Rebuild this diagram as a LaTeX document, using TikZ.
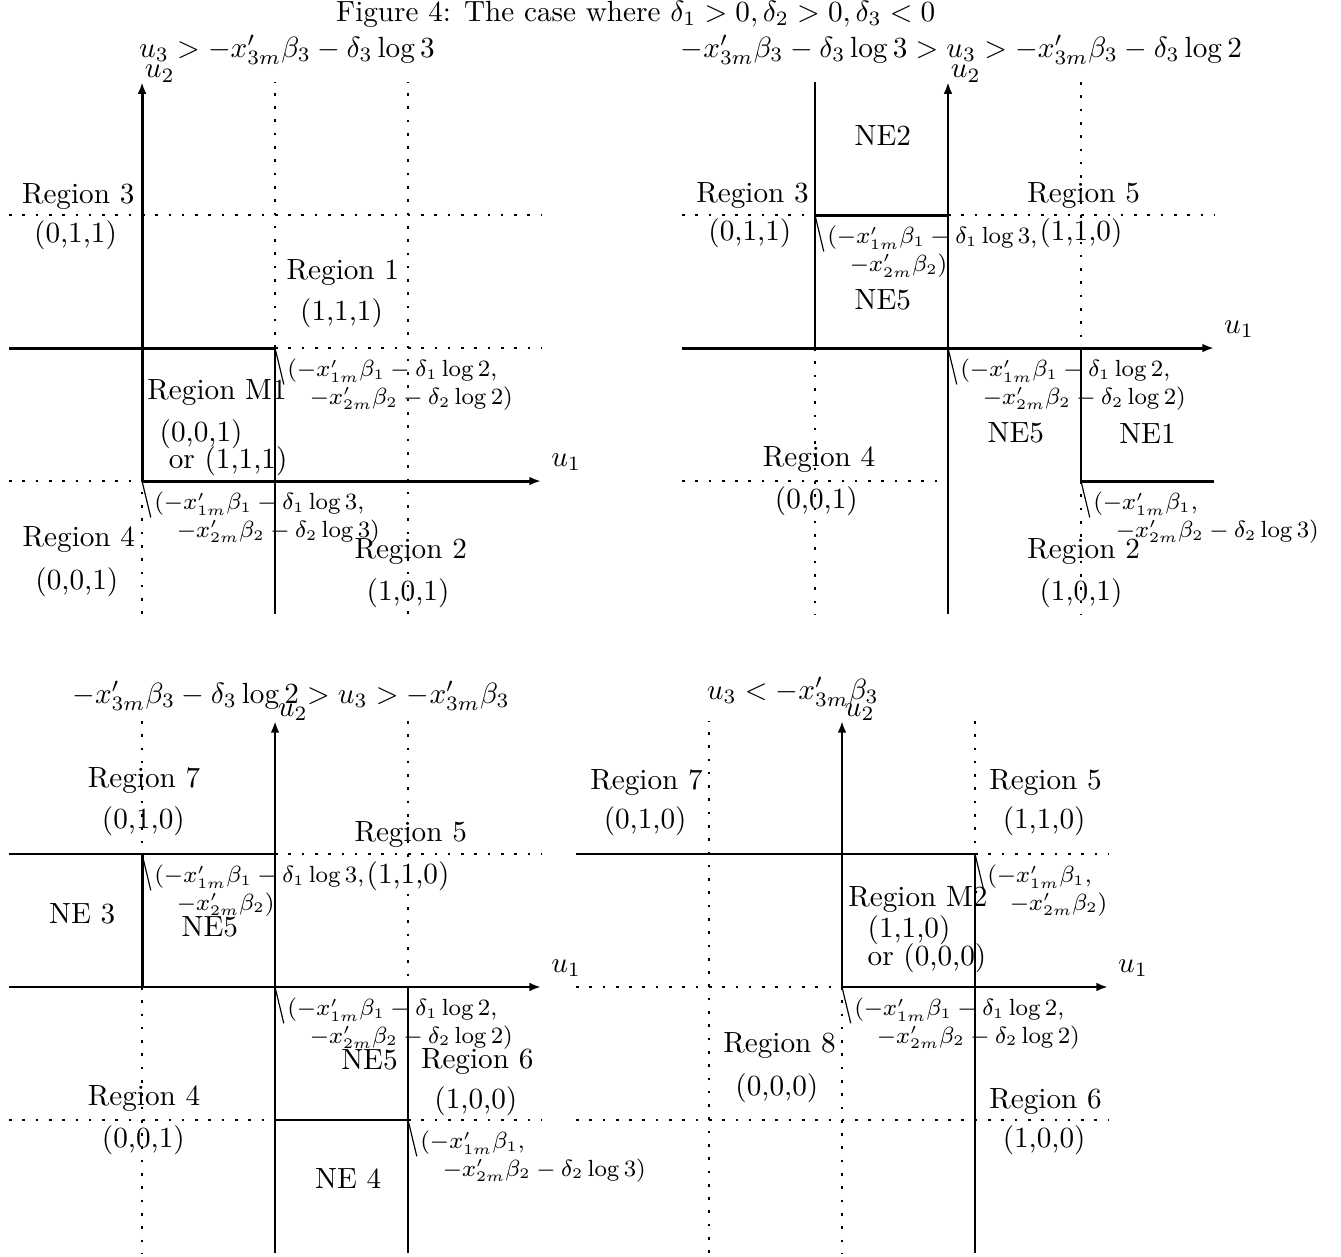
\documentclass[tikz,border=0pt]{standalone}
\usepackage{amsmath,amssymb}
\usetikzlibrary{arrows.meta,positioning,calc}

\begin{document}
\begin{tikzpicture}[x=1.6cm,y=1.6cm,
      bd/.style={line width=1pt},
      dl/.style={line width=0.9pt,dash pattern=on 0.9pt off 3.65pt},
      ax/.style={line width=1pt,-{Latex[length=4pt,width=3pt]}},
      rg/.style={inner sep=1pt},
      pt/.style={font=\fontsize{7.7pt}{9.5pt}\selectfont,align=left,inner sep=1pt},
      pl/.style={line width=0.4pt},
      ua/.style={anchor=south west,inner sep=0.5pt,yshift=-1pt},
      ub/.style={above right,inner sep=3pt}]
  \useasboundingbox (0,0) rectangle (10.083,-9.444);
  \node (fig) at (4.78,-0.105) {Figure 4: The case where $\delta_1 > 0, \delta_2 > 0, \delta_3 < 0$};

  % u3 above the first threshold
  \begin{scope}[shift={(1.068,-3.617)}]
    \draw[dl] (-1,2) -- (3,2);
    \draw[dl] (1,1) -- (3,1);
    \draw[dl] (-1,0) -- (0,0);
    \draw[dl] (0,-1) -- (0,0);
    \draw[dl] (1,1) -- (1,3);
    \draw[dl] (2,-1) -- (2,3);
    \draw[bd] (-1,1) -- (1,1) -- (1,-1);
    \draw[ax] (0,0) -- (3,0) node[ub] (au1) {$u_1$};
    \draw[ax] (0,0) -- (0,3) node[ua] (au2) {$u_2$};
    \node (at) at (1.09,3.24) {$u_3 > -x'_{3m}\beta_3 - \delta_3\log 3$};
    \node[rg] (a3) at (-0.48,2.14) {Region 3};
    \node[rg] (a3v) at (-0.50,1.85) {(0,1,1)};
    \node[rg] (a1) at (1.51,1.57) {Region 1};
    \node[rg] (a1v) at (1.50,1.26) {(1,1,1)};
    \node[rg] (am) at (0.564,0.662) {Region M1};
    \node[rg] (amv) at (0.444,0.353) {(0,0,1)};
    \node[rg] (amw) at (0.647,0.150) {or (1,1,1)};
    \node[rg] (a4) at (-0.475,-0.44) {Region 4};
    \node[rg] (a4v) at (-0.49,-0.76) {(0,0,1)};
    \node[rg] (a2) at (2.02,-0.53) {Region 2};
    \node[rg] (a2v) at (2.0,-0.84) {(1,0,1)};
    \coordinate (ac2) at (1,1);
    \coordinate (ac3) at (0,0);
    \node[pt,below right=2.5pt and 3pt of ac2] (al2)
      {$(-x'_{1m}\beta_1-\delta_1\log 2,$\\\quad$-x'_{2m}\beta_2-\delta_2\log 2)$};
    \node[pt,below right=2.5pt and 3pt of ac3] (al3)
      {$(-x'_{1m}\beta_1-\delta_1\log 3,$\\\quad$-x'_{2m}\beta_2-\delta_2\log 3)$};
    \draw[pl] (ac2) -- (al2.west);
    \draw[pl] (ac3) -- (al3.west);
  \end{scope}

  % u3 between log 3 and log 2
  \begin{scope}[shift={(7.128,-2.617)}]
    \draw[dl] (-2,1) -- (-1,1);
    \draw[dl] (0,1) -- (2,1);
    \draw[dl] (-2,-1) -- (0,-1);
    \draw[dl] (-1,0) -- (-1,-2);
    \draw[dl] (1,2) -- (1,0);
    \draw[dl] (1,-1) -- (1,-2);
    \draw[bd] (-1,2) -- (-1,0);
    \draw[bd] (-1,1) -- (0,1);
    \draw[bd] (1,0) -- (1,-1) -- (2,-1);
    \draw[ax] (-2,0) -- (2,0) node[ub] (bu1) {$u_1$};
    \draw[ax] (0,-2) -- (0,2) node[ua] (bu2) {$u_2$};
    \node (bt) at (0.10,2.24) {$-x'_{3m}\beta_3 - \delta_3\log 3 > u_3 > -x'_{3m}\beta_3 - \delta_3\log 2$};
    \node[rg] (bn2) at (-0.49,1.6) {NE2};
    \node[rg] (b3) at (-1.47,1.15) {Region 3};
    \node[rg] (b3v) at (-1.49,0.86) {(0,1,1)};
    \node[rg] (b5) at (1.02,1.15) {Region 5};
    \node[rg] (b5v) at (1.0,0.86) {(1,1,0)};
    \node[rg] (bn5) at (-0.49,0.36) {NE5};
    \node[rg] (bn5b) at (0.51,-0.64) {NE5};
    \node[rg] (bn1) at (1.50,-0.64) {NE1};
    \node[rg] (b4) at (-0.97,-0.84) {Region 4};
    \node[rg] (b4v) at (-0.99,-1.15) {(0,0,1)};
    \node[rg] (b2) at (1.02,-1.53) {Region 2};
    \node[rg] (b2v) at (1.0,-1.84) {(1,0,1)};
    \coordinate (bc1) at (-1,1);
    \coordinate (bc2) at (0,0);
    \coordinate (bc3) at (1,-1);
    \node[pt,below right=2.5pt and 3pt of bc1] (bl1)
      {$(-x'_{1m}\beta_1-\delta_1\log 3,$\\\quad$-x'_{2m}\beta_2)$};
    \node[pt,below right=2.5pt and 3pt of bc2] (bl2)
      {$(-x'_{1m}\beta_1-\delta_1\log 2,$\\\quad$-x'_{2m}\beta_2-\delta_2\log 2)$};
    \node[pt,below right=2.5pt and 3pt of bc3] (bl3)
      {$(-x'_{1m}\beta_1,$\\\quad$-x'_{2m}\beta_2-\delta_2\log 3)$};
    \draw[pl] (bc1) -- (bl1.west);
    \draw[pl] (bc2) -- (bl2.west);
    \draw[pl] (bc3) -- (bl3.west);
  \end{scope}

  % u3 between log 2 and 0
  \begin{scope}[shift={(2.068,-7.421)}]
    \draw[dl] (0,1) -- (2,1);
    \draw[dl] (-2,-1) -- (0,-1);
    \draw[dl] (1,-1) -- (2,-1);
    \draw[dl] (-1,2) -- (-1,1);
    \draw[dl] (-1,0) -- (-1,-2);
    \draw[dl] (1,2) -- (1,0);
    \draw[bd] (-2,1) -- (0,1);
    \draw[bd] (-1,1) -- (-1,0);
    \draw[bd] (0,-1) -- (1,-1);
    \draw[bd] (1,0) -- (1,-2);
    \draw[ax] (-2,0) -- (2,0) node[ub] (cu1) {$u_1$};
    \draw[ax] (0,-2) -- (0,2) node[ua] (cu2) {$u_2$};
    \node (ct) at (0.12,2.19) {$-x'_{3m}\beta_3 - \delta_3\log 2 > u_3 > -x'_{3m}\beta_3$};
    \node[rg] (c7) at (-0.985,1.55) {Region 7};
    \node[rg] (c7v) at (-0.99,1.25) {(0,1,0)};
    \node[rg] (c5) at (1.02,1.15) {Region 5};
    \node[rg] (c5v) at (1.0,0.83) {(1,1,0)};
    \node[rg] (cn3) at (-1.45,0.55) {NE 3};
    \node[rg] (cn5) at (-0.49,0.45) {NE5};
    \node[rg] (cn5b) at (0.71,-0.55) {NE5};
    \node[rg] (c6) at (1.52,-0.56) {Region 6};
    \node[rg] (c6v) at (1.51,-0.86) {(1,0,0)};
    \node[rg] (c4) at (-0.985,-0.84) {Region 4};
    \node[rg] (c4v) at (-0.99,-1.15) {(0,0,1)};
    \node[rg] (cn4) at (0.55,-1.44) {NE 4};
    \coordinate (cc1) at (-1,1);
    \coordinate (cc2) at (0,0);
    \coordinate (cc3) at (1,-1);
    \node[pt,below right=2.5pt and 3pt of cc1] (cl1)
      {$(-x'_{1m}\beta_1-\delta_1\log 3,$\\\quad$-x'_{2m}\beta_2)$};
    \node[pt,below right=2.5pt and 3pt of cc2] (cl2)
      {$(-x'_{1m}\beta_1-\delta_1\log 2,$\\\quad$-x'_{2m}\beta_2-\delta_2\log 2)$};
    \node[pt,below right=2.5pt and 3pt of cc3] (cl3)
      {$(-x'_{1m}\beta_1,$\\\quad$-x'_{2m}\beta_2-\delta_2\log 3)$};
    \draw[pl] (cc1) -- (cl1.west);
    \draw[pl] (cc2) -- (cl2.west);
    \draw[pl] (cc3) -- (cl3.west);
  \end{scope}

  % u3 below the last threshold
  \begin{scope}[shift={(6.331,-7.421)}]
    \draw[dl] (1,1) -- (2,1);
    \draw[dl] (-2,0) -- (0,0);
    \draw[dl] (-2,-1) -- (2,-1);
    \draw[dl] (-1,-2) -- (-1,2);
    \draw[dl] (0,0) -- (0,-2);
    \draw[dl] (1,2) -- (1,1);
    \draw[bd] (-2,1) -- (1,1) -- (1,-2);
    \draw[ax] (0,0) -- (2,0) node[ub] (du1) {$u_1$};
    \draw[ax] (0,0) -- (0,2) node[ua] (du2) {$u_2$};
    \node (dt) at (-0.37,2.22) {$u_3 < -x'_{3m}\beta_3$};
    \node[rg] (d7) at (-1.47,1.54) {Region 7};
    \node[rg] (d7v) at (-1.48,1.25) {(0,1,0)};
    \node[rg] (d5) at (1.53,1.54) {Region 5};
    \node[rg] (d5v) at (1.52,1.25) {(1,1,0)};
    \node[rg] (dm) at (0.571,0.654) {Region M2};
    \node[rg] (dmv) at (0.504,0.429) {(1,1,0)};
    \node[rg] (dmw) at (0.639,0.218) {or (0,0,0)};
    \node[rg] (d8) at (-0.47,-0.44) {Region 8};
    \node[rg] (d8v) at (-0.49,-0.76) {(0,0,0)};
    \node[rg] (d6) at (1.53,-0.86) {Region 6};
    \node[rg] (d6v) at (1.52,-1.15) {(1,0,0)};
    \coordinate (dc1) at (1,1);
    \coordinate (dc2) at (0,0);
    \node[pt,below right=2.5pt and 3pt of dc1] (dl1)
      {$(-x'_{1m}\beta_1,$\\\quad$-x'_{2m}\beta_2)$};
    \node[pt,below right=2.5pt and 3pt of dc2] (dl2)
      {$(-x'_{1m}\beta_1-\delta_1\log 2,$\\\quad$-x'_{2m}\beta_2-\delta_2\log 2)$};
    \draw[pl] (dc1) -- (dl1.west);
    \draw[pl] (dc2) -- (dl2.west);
  \end{scope}
\end{tikzpicture}
\end{document}
